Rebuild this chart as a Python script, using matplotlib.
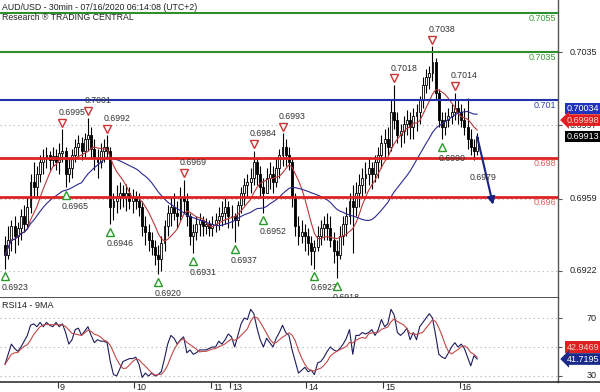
import numpy as np
import pandas as pd
import matplotlib
matplotlib.use("Agg")
import matplotlib.pyplot as plt
import matplotlib.transforms as mtransforms

plt.rcParams['font.family'] = ['Liberation Sans', 'DejaVu Sans']

# AUD/USD, one value per hour (2 x 30min bars)
high = [0.6940, 0.6945, 0.6948, 0.6950, 0.6947, 0.6954, 0.6956, 0.6960, 0.6972, 0.6978,
        0.6976, 0.6982, 0.6985, 0.6986, 0.6984, 0.6986, 0.6985, 0.6988, 0.6995, 0.6986,
        0.6980, 0.6985, 0.6990, 0.6992, 0.6991, 0.6993, 0.7001, 0.6996, 0.6990, 0.6985,
        0.6988, 0.6990, 0.6992, 0.6986, 0.6962, 0.6966, 0.6968, 0.6966, 0.6967, 0.6965,
        0.6964, 0.6963, 0.6962, 0.6958, 0.6950, 0.6946, 0.6942, 0.6938, 0.6935, 0.6940,
        0.6948, 0.6956, 0.6960, 0.6962, 0.6958, 0.6965, 0.6969, 0.6962, 0.6952, 0.6946,
        0.6950, 0.6952, 0.6950, 0.6949, 0.6948, 0.6950, 0.6952, 0.6955, 0.6958, 0.6960,
        0.6958, 0.6956, 0.6952, 0.6958, 0.6965, 0.6970, 0.6972, 0.6975, 0.6984, 0.6980,
        0.6976, 0.6970, 0.6975, 0.6978, 0.6976, 0.6980, 0.6985, 0.6993, 0.6990, 0.6986,
        0.6980, 0.6962, 0.6950, 0.6948, 0.6946, 0.6944, 0.6940, 0.6938, 0.6945, 0.6948,
        0.6950, 0.6952, 0.6950, 0.6942, 0.6938, 0.6945, 0.6950, 0.6955, 0.6962, 0.6966,
        0.6968, 0.6972, 0.6975, 0.6978, 0.6980, 0.6978, 0.6982, 0.6986, 0.6992, 0.6995,
        0.6996, 0.7010, 0.7018, 0.7004, 0.6998, 0.7002, 0.7005, 0.7004, 0.7006, 0.7008,
        0.7012, 0.7022, 0.7026, 0.7028, 0.7038, 0.7032, 0.7016, 0.7004, 0.7004, 0.7006,
        0.7008, 0.7014, 0.7010, 0.7008, 0.7006, 0.7011, 0.6995, 0.6990, 0.6993]
low = [0.6923, 0.6928, 0.6932, 0.6931, 0.6935, 0.6938, 0.6942, 0.6944, 0.6952, 0.6960,
       0.6960, 0.6968, 0.6972, 0.6975, 0.6974, 0.6976, 0.6974, 0.6972, 0.6978, 0.6965,
       0.6968, 0.6970, 0.6978, 0.6980, 0.6979, 0.6980, 0.6984, 0.6980, 0.6974, 0.6970,
       0.6975, 0.6978, 0.6980, 0.6946, 0.6948, 0.6952, 0.6954, 0.6955, 0.6953, 0.6954,
       0.6952, 0.6954, 0.6950, 0.6940, 0.6935, 0.6932, 0.6930, 0.6925, 0.6920, 0.6922,
       0.6932, 0.6940, 0.6945, 0.6948, 0.6944, 0.6948, 0.6952, 0.6945, 0.6935, 0.6931,
       0.6938, 0.6940, 0.6940, 0.6941, 0.6940, 0.6940, 0.6942, 0.6943, 0.6945, 0.6946,
       0.6944, 0.6944, 0.6937, 0.6945, 0.6952, 0.6956, 0.6960, 0.6962, 0.6966, 0.6966,
       0.6960, 0.6952, 0.6962, 0.6964, 0.6962, 0.6965, 0.6970, 0.6976, 0.6976, 0.6974,
       0.6955, 0.6940, 0.6935, 0.6936, 0.6932, 0.6930, 0.6925, 0.6923, 0.6932, 0.6935,
       0.6938, 0.6938, 0.6934, 0.6926, 0.6918, 0.6928, 0.6935, 0.6940, 0.6946, 0.6931,
       0.6950, 0.6955, 0.6960, 0.6962, 0.6966, 0.6964, 0.6968, 0.6970, 0.6975, 0.6980,
       0.6982, 0.6984, 0.6995, 0.6988, 0.6986, 0.6988, 0.6992, 0.6990, 0.6990, 0.6994,
       0.6998, 0.7006, 0.7014, 0.7016, 0.7020, 0.7010, 0.6996, 0.6990, 0.6992, 0.6996,
       0.6998, 0.7000, 0.6998, 0.6996, 0.6992, 0.6985, 0.6982, 0.6979, 0.6982]
close = [0.6930, 0.6938, 0.6945, 0.6940, 0.6944, 0.6950, 0.6946, 0.6955, 0.6968, 0.6965,
         0.6972, 0.6978, 0.6980, 0.6982, 0.6979, 0.6981, 0.6978, 0.6983, 0.6984, 0.6972,
         0.6975, 0.6982, 0.6986, 0.6988, 0.6984, 0.6990, 0.6992, 0.6985, 0.6980, 0.6978,
         0.6984, 0.6986, 0.6984, 0.6955, 0.6958, 0.6960, 0.6962, 0.6960, 0.6962, 0.6958,
         0.6960, 0.6958, 0.6955, 0.6945, 0.6942, 0.6938, 0.6934, 0.6930, 0.6928, 0.6936,
         0.6945, 0.6952, 0.6955, 0.6952, 0.6950, 0.6960, 0.6958, 0.6950, 0.6940, 0.6942,
         0.6946, 0.6948, 0.6945, 0.6946, 0.6944, 0.6946, 0.6948, 0.6950, 0.6952, 0.6955,
         0.6950, 0.6950, 0.6948, 0.6956, 0.6962, 0.6966, 0.6968, 0.6970, 0.6978, 0.6972,
         0.6965, 0.6962, 0.6970, 0.6972, 0.6968, 0.6975, 0.6982, 0.6986, 0.6982, 0.6978,
         0.6960, 0.6945, 0.6940, 0.6942, 0.6940, 0.6936, 0.6932, 0.6934, 0.6940, 0.6944,
         0.6946, 0.6944, 0.6938, 0.6932, 0.6930, 0.6940, 0.6946, 0.6950, 0.6958, 0.6955,
         0.6962, 0.6966, 0.6970, 0.6972, 0.6975, 0.6972, 0.6978, 0.6982, 0.6988, 0.6990,
         0.6986, 0.7004, 0.7000, 0.6992, 0.6994, 0.6998, 0.7000, 0.6996, 0.7002, 0.7004,
         0.7010, 0.7018, 0.7022, 0.7024, 0.7030, 0.7014, 0.7000, 0.6996, 0.7000, 0.7002,
         0.7004, 0.7006, 0.7004, 0.7000, 0.6996, 0.6990, 0.6986, 0.6984, 0.69913]
first_open = 0.6935

rsi = [38, 45, 52, 49, 47, 50, 54, 58, 65, 66,
       64, 67, 64, 67, 65, 64, 67, 64, 66, 60,
       52, 55, 62, 63, 58, 61, 64, 58, 53, 55,
       54, 54, 53, 40, 31, 30, 35, 40, 41, 42,
       42, 43, 38, 29, 32, 30, 32, 30, 31, 33,
       42, 52, 58, 56, 52, 55, 57, 46, 48, 45,
       46, 48, 48, 48, 49, 50, 50, 54, 52, 55,
       59, 57, 50, 58, 66, 70, 69, 76, 73, 63,
       55, 50, 56, 53, 50, 56, 60, 65, 60, 58,
       48, 40, 32, 34, 36, 33, 34, 31, 39, 40,
       43, 47, 50, 48, 47, 49, 52, 56, 62, 45,
       58, 58, 60, 59, 60, 62, 58, 62, 69, 64,
       66, 76, 72, 60, 58, 60, 63, 55, 60, 55,
       64, 67, 70, 73, 70, 58, 45, 43, 42, 46,
       50, 53, 50, 52, 49, 43, 37, 44, 41.72]

day_pos = [16.5, 40.5, 64.5, 70.5, 94.5, 118.5, 142.5]
day_lbl = ['9', '10', '11', '13', '14', '15', '16']

pivot_hi = [18, 26, 32, 56, 78, 87, 122, 134, 141]
pivot_lo = [0, 19, 33, 48, 59, 72, 81, 97, 104, 137]

levels = [0.7055, 0.7035, 0.701, 0.698, 0.696]
level_lbl = ['0.7055', '0.7035', '0.701', '0.698', '0.696']
level_col = ['#2f8f2f', '#2f8f2f', '#2233aa', '#dd2222', '#dd2222']
level_txt = ['#3a9a3a', '#3a9a3a', '#3344aa', '#e06060', '#e06060']

price_ticks = [0.6922, 0.6959, 0.6997, 0.7035]
target = 0.6956
target_lbl = '0.6979'

# last values shown in the right margin
ma_slow_last, ma_fast_last, last_close = 0.70034, 0.69998, 0.69913
rsi_ma_last, rsi_last = 42.9469, 41.7195

h = np.array(high)
l = np.array(low)
c = np.array(close)
o = np.r_[first_open, c[:-1]]
x = np.arange(len(c))
ma_fast = pd.Series(c).rolling(8, min_periods=1).mean()
ma_slow = pd.Series(c).rolling(25, min_periods=1).mean()
rsi_ma = pd.Series(rsi).rolling(5, min_periods=1).mean()

fig = plt.figure(figsize=(6, 3.92), dpi=100)
ax = fig.add_axes([0, 1 - 298 / 392, 558 / 600, 298 / 392])
ax2 = fig.add_axes([0, 1 - 382 / 392, 558 / 600, 84 / 392])

for a in (ax, ax2):
    a.set_xlim(-1.57, 173.35)
    for s in ('top', 'left'):
        a.spines[s].set_visible(False)
    a.spines['right'].set_color('#555555')
    a.spines['bottom'].set_color('#333333')
    a.spines['right'].set_linewidth(1.0)
    a.spines['bottom'].set_linewidth(1.2)
    a.tick_params(axis='y', left=False, labelleft=False, right=True,
                  labelright=False, length=3, color='#555555')

ax.set_ylim(0.690780, 0.706189)
ax.set_xticks([])
ax.set_yticks(price_ticks)
ax.grid(axis='y', ls=(0, (1, 3)), color='#b0b0b0', lw=0.8)

# candles
ax.vlines(x, np.minimum(l, np.minimum(o, c)), np.maximum(h, np.maximum(o, c)),
          color='black', lw=0.8, zorder=2)
up = c >= o
ax.bar(x[up], (c - o)[up], bottom=o[up], width=0.6, color='white',
       edgecolor='black', lw=0.6, zorder=2)
ax.bar(x[~up], (o - c)[~up], bottom=c[~up], width=0.6, color='black',
       edgecolor='black', lw=0.6, zorder=2)

ax.plot(x, ma_fast, color='#b83a3a', lw=0.8, zorder=3)
ax.plot(x, ma_slow, color='#2a2a90', lw=0.8, zorder=3)

blend = mtransforms.blended_transform_factory(ax.transAxes, ax.transData)
for lv, lb, col, tc in zip(levels, level_lbl, level_col, level_txt):
    ax.axhline(lv, color=col, lw=2.0 if col == '#dd2222' else 1.5, zorder=4)
    ax.annotate(lb, xy=(0.997, lv), xycoords=blend, xytext=(0, -4),
                textcoords='offset points', ha='right', va='center',
                fontsize=6.5, color=tc, zorder=5)

# pivot markers
for i in pivot_hi:
    ax.plot(x[i], h[i] + 0.00033, marker='v', ms=6, mfc='white', mec='#cc3333',
            mew=1.0, zorder=5)
    ax.annotate(f'{h[i]:.4f}', xy=(x[i], h[i] + 0.00033), xytext=(7, 7.5),
                textcoords='offset points', ha='center', va='center',
                fontsize=6.3, color='#333333', zorder=5)
for i in pivot_lo:
    ax.plot(x[i], l[i] - 0.00039, marker='^', ms=6, mfc='white', mec='#2a9a2a',
            mew=1.0, zorder=5)
    ax.annotate(f'{l[i]:.4f}', xy=(x[i], l[i] - 0.00039), xytext=(7, -8.5),
                textcoords='offset points', ha='center', va='center',
                fontsize=6.3, color='#333333', zorder=5, annotation_clip=False)

# forecast arrow
ax.annotate('', xy=(x[-1] + 5, target), xytext=(x[-1], c[-1]),
            arrowprops=dict(arrowstyle='-|>', color='#1a237e', lw=1.5,
                            mutation_scale=11, shrinkA=0, shrinkB=0), zorder=6)
ax.text(x[-1] + 2, 0.6970, target_lbl, ha='center', va='center', fontsize=6.3,
        color='#333333', zorder=6)

# right price scale
fblend = mtransforms.blended_transform_factory(fig.transFigure, ax.transData)
for t in price_ticks:
    fig.text(597 / 600, t, f'{t:.4f}', transform=fblend, ha='right', va='center',
             fontsize=6.5, color='#222222')
fig.text(599 / 600, ma_slow_last + 0.00024, f'{ma_slow_last:.5f}', transform=fblend,
         ha='right', va='center', fontsize=6.5, color='white',
         bbox=dict(boxstyle='square,pad=0.15', fc='#2233bb', ec='none'))
fig.text(599 / 600, ma_fast_last, f'{ma_fast_last:.5f}', transform=fblend,
         ha='right', va='center', fontsize=6.5, color='#ffd0d0',
         bbox=dict(boxstyle='larrow,pad=0.15', fc='#e02020', ec='none'))
fig.text(599 / 600, last_close, f'{last_close:.5f}', transform=fblend,
         ha='right', va='center', fontsize=6.5, color='white',
         bbox=dict(boxstyle='square,pad=0.15', fc='black', ec='none'))

# RSI panel
ax2.set_ylim(25.86, 83.8)
ax2.set_yticks([30, 50, 70])
ax2.grid(axis='y', ls=(0, (1, 3)), color='#b0b0b0', lw=0.8)
ax2.plot(x, rsi, color='#1c1c5c', lw=0.8)
ax2.plot(x, rsi_ma, color='#c04848', lw=0.8)
ax2.set_xticks(day_pos)
ax2.tick_params(axis='x', length=4.5, color='#333333', labelbottom=False)
for p, lb in zip(day_pos, day_lbl):
    ax2.annotate(lb, xy=(p, 0), xycoords=('data', 'axes fraction'), xytext=(1.5, -3.8),
                 textcoords='offset points', ha='left', va='center', fontsize=6.5,
                 color='#222222', annotation_clip=False)

rblend = mtransforms.blended_transform_factory(fig.transFigure, ax2.transData)
for t in (30, 70):
    fig.text(597 / 600, t, str(t), transform=rblend, ha='right', va='center',
             fontsize=6.5, color='#222222')
fig.text(599 / 600, rsi_ma_last + 6.9, f'{rsi_ma_last:.4f}', transform=rblend,
         ha='right', va='center', fontsize=6.5, color='#ffd0d0',
         bbox=dict(boxstyle='square,pad=0.15', fc='#e02020', ec='none'))
fig.text(599 / 600, rsi_last, f'{rsi_last:.4f}', transform=rblend,
         ha='right', va='center', fontsize=6.5, color='white',
         bbox=dict(boxstyle='larrow,pad=0.15', fc='#1a2a8a', ec='none'))
fig.add_artist(plt.Line2D([558 / 600, 1], [1 - 382 / 392] * 2, color='#333333', lw=1.2))

fig.text(2 / 600, 1 - 7 / 392, 'AUD/USD - 30min - 07/16/2020 06:14:08 (UTC+2)',
         ha='left', va='center', fontsize=6.3, color='#222222')
fig.text(2 / 600, 1 - 18 / 392, 'Research \u00ae TRADING CENTRAL',
         ha='left', va='center', fontsize=6.3, color='#222222')
fig.text(2 / 600, 1 - 306 / 392, 'RSI14 - 9MA', ha='left', va='center',
         fontsize=6.5, color='#222222')

fig.savefig('out.png', dpi=100)
